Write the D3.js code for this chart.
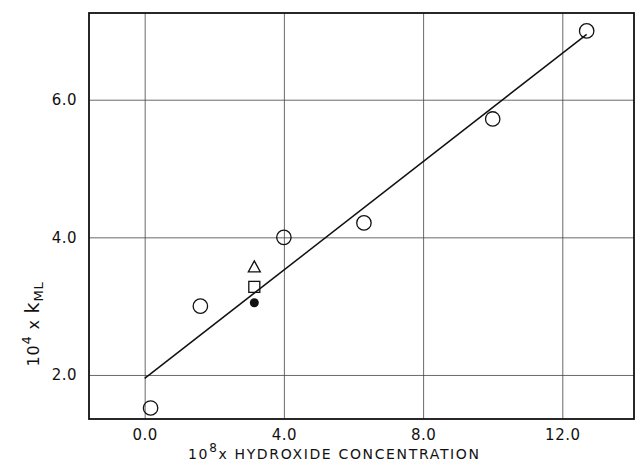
<!DOCTYPE html>
<html>
<head>
<meta charset="utf-8">
<script src="https://cdn.jsdelivr.net/npm/d3@7"></script>
<style>
  body { margin: 0; background: #fff; }
  text { font-family: "DejaVu Sans", sans-serif; fill: #111; }
</style>
</head>
<body>
<svg id="chart"></svg>
<script>
// values
const circleX = [0.17, 1.6, 4.0, 6.3, 10.0, 12.7];
const circleY = [1.52, 3.0, 4.0, 4.21, 5.72, 7.0];
const triangleX = [3.15], triangleY = [3.57];
const squareX = [3.15], squareY = [3.28];
const dotX = [3.15], dotY = [3.05];
const fitX = [0, 12.7];
const fitY = [1.95, 6.95];
const xTicks = [0, 4, 8, 12];
const xTickLabels = ["0.0", "4.0", "8.0", "12.0"];
const yTicks = [2, 4, 6];
const yTickLabels = ["2.0", "4.0", "6.0"];

const width = 636, height = 464;
const margin = { left: 89, right: 2, top: 13, bottom: 45 };
const visWidth = width - margin.left - margin.right;
const visHeight = height - margin.top - margin.bottom;

const svg = d3.select('svg#chart').attr('width', width).attr('height', height);
const g = svg.append('g').attr('transform', 'translate(' + margin.left + ',' + margin.top + ')');

const xScale = d3.scaleLinear().domain([-1.6, 14.06]).range([0, visWidth]);
const yScale = d3.scaleLinear().domain([1.36, 7.26]).range([visHeight, 0]);

// grid + tick labels
const xAxis = g.append('g')
  .attr('transform', 'translate(0,' + visHeight + ')')
  .call(d3.axisBottom(xScale).tickValues(xTicks).tickSize(-visHeight).tickPadding(10)
    .tickFormat((d, i) => xTickLabels[i]));
const yAxis = g.append('g')
  .call(d3.axisLeft(yScale).tickValues(yTicks).tickSize(-visWidth).tickPadding(12)
    .tickFormat((d, i) => yTickLabels[i]));

[xAxis, yAxis].forEach(ax => {
  ax.select('.domain').remove();
  ax.selectAll('line').attr('stroke', '#444').attr('stroke-width', 0.8);
  ax.selectAll('text').style('font-size', '15px').style('letter-spacing', '0.5px').attr('fill', '#111');
});

// frame
g.append('rect')
  .attr('x', 0).attr('y', 0)
  .attr('width', visWidth).attr('height', visHeight)
  .attr('fill', 'none').attr('stroke', '#111').attr('stroke-width', 1.8);

// fitted line
const fit = fitX.map((d, i) => [d, fitY[i]]);
g.append('path')
  .attr('d', d3.line().x(d => xScale(d[0])).y(d => yScale(d[1]))(fit))
  .attr('fill', 'none').attr('stroke', '#111').attr('stroke-width', 1.5);

// open circles
g.selectAll('circle.pt').data(circleX.map((d, i) => [d, circleY[i]]))
  .enter().append('circle').attr('class', 'pt')
  .attr('cx', d => xScale(d[0])).attr('cy', d => yScale(d[1]))
  .attr('r', 7.2).attr('fill', 'none').attr('stroke', '#111').attr('stroke-width', 1.3);

// triangle
g.selectAll('path.tri').data(triangleX.map((d, i) => [d, triangleY[i]]))
  .enter().append('path').attr('class', 'tri')
  .attr('transform', d => 'translate(' + xScale(d[0]) + ',' + yScale(d[1]) + ')')
  .attr('d', 'M0,-6L6,5L-6,5Z')
  .attr('fill', 'none').attr('stroke', '#111').attr('stroke-width', 1.3);

// square
g.selectAll('rect.sq').data(squareX.map((d, i) => [d, squareY[i]]))
  .enter().append('rect').attr('class', 'sq')
  .attr('x', d => xScale(d[0]) - 5.5).attr('y', d => yScale(d[1]) - 5.5)
  .attr('width', 11).attr('height', 11)
  .attr('fill', 'none').attr('stroke', '#111').attr('stroke-width', 1.3);

// filled dot
g.selectAll('circle.dot').data(dotX.map((d, i) => [d, dotY[i]]))
  .enter().append('circle').attr('class', 'dot')
  .attr('cx', d => xScale(d[0])).attr('cy', d => yScale(d[1]))
  .attr('r', 4.5).attr('fill', '#111');

// x title
const xt = svg.append('text')
  .attr('x', 188).attr('y', 459)
  .style('font-size', '14px').style('letter-spacing', '1.65px');
xt.append('tspan').text('10');
xt.append('tspan').attr('dy', -7).style('font-size', '12px').text('8');
xt.append('tspan').attr('dy', 7).text('x HYDROXIDE CONCENTRATION');

// y title
const yt = svg.append('text')
  .attr('transform', 'translate(39,324) rotate(-90)')
  .attr('text-anchor', 'middle')
  .style('font-size', '16px').style('letter-spacing', '0.8px');
yt.append('tspan').text('10');
yt.append('tspan').attr('dy', -8).style('font-size', '13px').text('4');
yt.append('tspan').attr('dy', 8).text(' x ');
yt.append('tspan').style('font-size', '19px').text('k');
yt.append('tspan').attr('dy', 4).style('font-size', '13px').text('ML');
</script>
</body>
</html>
